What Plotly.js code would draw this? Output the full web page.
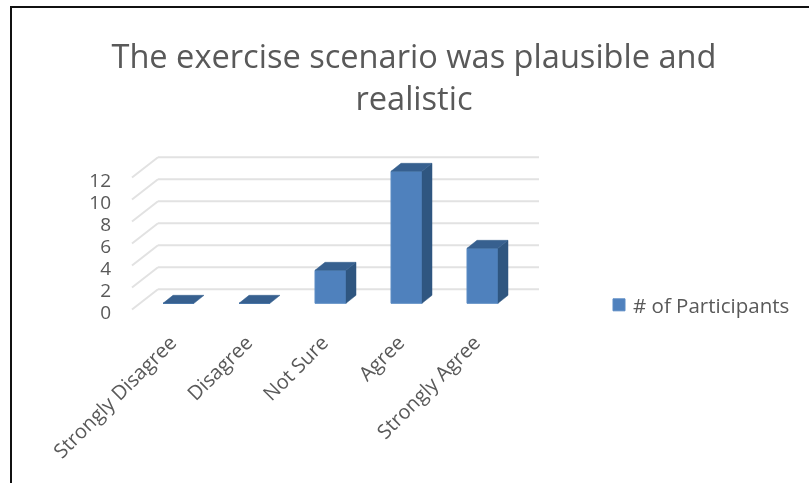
<!DOCTYPE html>
<html><head><meta charset="utf-8">
<script src="https://cdn.plot.ly/plotly-3.0.1.min.js"></script>
<style>html,body{margin:0;padding:0;background:#fff;overflow:hidden}
#frame{position:absolute;left:10px;top:6px;width:820px;height:500px;border:2.5px solid #111;box-sizing:border-box;pointer-events:none}
#chart{position:absolute;left:0;top:0;width:809px;height:483px;filter:blur(0.4px)}</style>
</head><body>
<div id="chart"></div><div id="frame"></div>
<script>
const categories = ["Strongly Disagree","Disagree","Not Sure","Agree","Strongly Agree"];
const participants = [0,0,3,12,5];
const yTicks = [0,2,4,6,8,10,12];
const seriesName = "# of Participants";
const titleText = "The exercise scenario was plausible and<br>realistic";

const W=809,H=483;
const plot={l:112,r:560,t:140,b:322};
const pxX=76, pxY=11, zeroPx=303.3, cat0Px=178.5;
const xr=[(plot.l-cat0Px)/pxX,(plot.r-cat0Px)/pxX];
const yr=[(zeroPx-plot.b)/pxY,(zeroPx-plot.t)/pxY];
const barW=31/76, depthX=10/pxX, depthY=8/pxY;
const backY=14/pxY, frontY=-6.2/pxY, backLeft=(158-cat0Px)/pxX, backRight=(539-cat0Px)/pxX, frontLeft=(132-cat0Px)/pxX;

const grid=[];
yTicks.forEach(t=>{
  grid.push({type:'line',xref:'x',yref:'y',layer:'below',x0:backLeft,x1:backRight,y0:t+backY,y1:t+backY,line:{color:'#e2e2e2',width:2}});
  grid.push({type:'line',xref:'x',yref:'y',layer:'below',x0:frontLeft,x1:backLeft,y0:t+frontY,y1:t+backY,line:{color:'#e2e2e2',width:2}});
});
const side={x:[],y:[]},top_={x:[],y:[]};
participants.forEach((v,i)=>{
  const a=i-barW/2,b=i+barW/2;
  if(v>0){side.x.push(b,b+depthX,b+depthX,b,b,null);side.y.push(0,depthY,v+depthY,v,0,null);}
  top_.x.push(a,a+depthX,b+depthX,b,a,null);top_.y.push(v,v+depthY,v+depthY,v,v,null);
});
const traces=[
 {type:'bar',name:seriesName,x:categories.map((c,i)=>i),y:participants,width:barW,marker:{color:'#4f81bd',line:{color:'#5b8bc4',width:1}},hoverinfo:'x+y'},
 {type:'scatter',mode:'lines',x:side.x,y:side.y,fill:'toself',fillcolor:'#2f5680',line:{color:'#2f5680',width:0.5},showlegend:false,hoverinfo:'skip'},
 {type:'scatter',mode:'lines',x:top_.x,y:top_.y,fill:'toself',fillcolor:'#37608f',line:{color:'#37608f',width:0.5},showlegend:false,hoverinfo:'skip'}
];
const txt='#595959', fam='"Open Sans", sans-serif';
const layout={
 width:W,height:H,paper_bgcolor:'#fff',plot_bgcolor:'rgba(0,0,0,0)',
 margin:{l:plot.l,r:W-plot.r,t:plot.t,b:H-plot.b,autoexpand:false},
 font:{family:fam,color:txt},
 title:{text:titleText,font:{family:fam,size:32.6,color:txt},x:414/W,xanchor:'center',y:1-68/H,yanchor:'top'},
 xaxis:{range:xr,tickmode:'array',tickvals:categories.map((c,i)=>i),ticktext:categories,tickangle:-45,showgrid:false,zeroline:false,showline:false,ticks:'',ticklabelshift:-8,ticklabelstandoff:4,tickfont:{family:fam,size:20,color:txt}},
 yaxis:{range:yr,tickmode:'array',tickvals:yTicks,showgrid:false,zeroline:false,showline:false,ticks:'',ticklabelshift:9,tickfont:{family:fam,size:19,color:txt}},
 shapes:grid,
 showlegend:true,
 legend:{x:593/W,xref:'container',xanchor:'left',y:1-305/H,yref:'container',yanchor:'middle',font:{family:fam,size:20.5,color:txt},bgcolor:'rgba(0,0,0,0)',itemwidth:30,traceorder:'normal'}
};
Plotly.newPlot('chart',traces,layout,{displayModeBar:false,responsive:false}).then(()=>{
  document.querySelectorAll('#chart .legendsymbols').forEach(g=>g.setAttribute('transform','translate(6,0)'));
});
</script>
</body></html>
